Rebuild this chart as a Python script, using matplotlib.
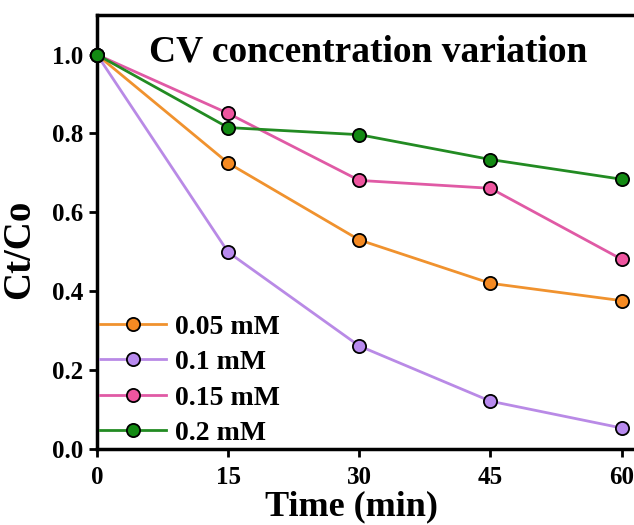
import matplotlib
matplotlib.use("Agg")
import matplotlib.pyplot as plt

# data
time_min = [0, 15, 30, 45, 60]
c_005 = [1.0, 0.725, 0.53, 0.42, 0.376]
c_01 = [1.0, 0.499, 0.261, 0.121, 0.053]
c_015 = [1.0, 0.851, 0.681, 0.661, 0.481]
c_02 = [1.0, 0.815, 0.797, 0.734, 0.684]
labels = ["0.05 mM", "0.1 mM", "0.15 mM", "0.2 mM"]
xticks = [0, 15, 30, 45, 60]
yticks = [0.0, 0.2, 0.4, 0.6, 0.8, 1.0]

plt.rcParams['font.family'] = ['Liberation Serif', 'DejaVu Serif']
plt.rcParams['font.weight'] = 'bold'

fig = plt.figure(figsize=(6.34, 5.25), dpi=100)
ax = fig.add_axes([0.153, 0.145, 0.855, 0.826])

series = [c_005, c_01, c_015, c_02]
line_cols = ["#f0922e", "#b98ae6", "#e05aa5", "#228b22"]
face_cols = ["#f58a22", "#b88aee", "#ee559f", "#138a13"]
for ys, lab, lc, fc in zip(series, labels, line_cols, face_cols):
    ax.plot(time_min, ys, '-o', color=lc, lw=2.0, label=lab,
            markersize=9.5, markerfacecolor=fc, markeredgecolor='black',
            markeredgewidth=1.3, clip_on=False, zorder=3)

ax.set_xlim(0, 62)
ax.set_ylim(0, 1.1)
ax.set_xticks(xticks)
ax.set_yticks(yticks)
ax.set_yticklabels(["%.1f" % v for v in yticks])
ax.tick_params(direction='out', length=6, width=2, labelsize=18)
ax.tick_params(axis='x', pad=6)
ax.tick_params(axis='y', pad=4)
for s in ax.spines.values():
    s.set_linewidth(2.5)

ax.set_xlabel("Time (min)", fontsize=26, fontweight='bold')
ax.xaxis.set_label_coords(0.469, -0.095)
ax.set_ylabel("Ct/Co", fontsize=28, fontweight='bold')
ax.yaxis.set_label_coords(-0.109, 0.46)
ax.text(0.5, 0.893, "CV concentration variation", transform=ax.transAxes,
        fontsize=27, fontweight='bold', ha='center', va='baseline')

ax.legend(loc='lower left', frameon=False, fontsize=20, handlelength=2.4,
          handletextpad=0.3, labelspacing=0.36, borderaxespad=0.1,
          borderpad=0.0)

fig.savefig("out.png", dpi=100)
